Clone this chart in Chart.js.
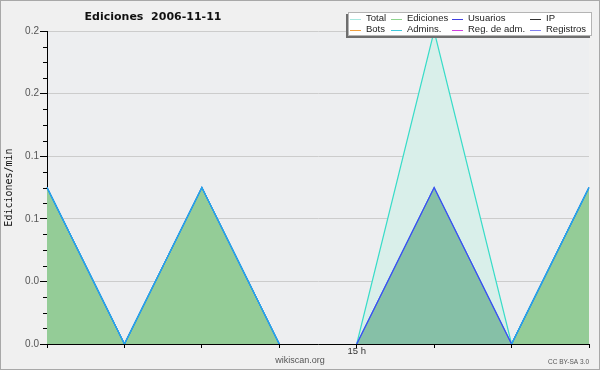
<!DOCTYPE html>
<html>
<head>
<meta charset="utf-8">
<script src="https://cdn.jsdelivr.net/npm/chart.js@4"></script>
<style>
  html, body { margin: 0; padding: 0; background: #f0f0f0; }
  #wrap { width: 600px; height: 370px; position: relative; }
</style>
</head>
<body>
<div id="wrap"><canvas id="editsChart" width="600" height="370"></canvas></div>
<script>
// data (edits per minute, one point per hour)
var hours = ['11 h', '12 h', '13 h', '14 h', '15 h', '16 h', '17 h', '18 h'];
var tickLabels = ['', '', '', '', '15 h', '', '', ''];
var total = [0.1, 0, 0.1, 0, 0, 0.2, 0, 0.1];
var ediciones = [0.1, 0, 0.1, 0, 0, 0.1, 0, 0.1];
var usuarios = [0.1, 0, 0.1, 0, 0, 0.1, 0, 0.1];
var admins = [0.1, 0, 0.1, 0, 0, 0, 0, 0.1];
var ip = [0, 0, 0, 0, 0, 0, 0, 0];
var bots = [0, 0, 0, 0, 0, 0, 0, 0];
var regAdm = [0, 0, 0, 0, 0, 0, 0, 0];
var registros = [0, 0, 0, 0, 0, 0, 0, 0];
var yTicks = [0, 0.04, 0.08, 0.12, 0.16, 0.2];

// hide segments lying on the zero line
var hideZero = {
  borderColor: function (c) {
    return (c.p0.parsed.y === 0 && c.p1.parsed.y === 0) ? 'rgba(0,0,0,0)' : undefined;
  }
};

function series(label, data, color, legendColor, fill, order) {
  return {
    label: label,
    data: data,
    borderColor: color,
    legendColor: legendColor,
    backgroundColor: fill || 'rgba(0,0,0,0)',
    fill: fill ? 'origin' : false,
    borderWidth: 1.2,
    pointRadius: 0,
    tension: 0,
    order: order,
    segment: hideZero
  };
}

var frame = {
  id: 'frame',
  beforeDraw: function (chart) {
    var c = chart.ctx, a = chart.chartArea;
    c.save();
    c.fillStyle = '#f0f0f0';
    c.fillRect(0, 0, chart.width, chart.height);
    c.strokeStyle = '#a8a8a8';
    c.lineWidth = 2;
    c.strokeRect(0, 0, chart.width, chart.height);
    c.fillStyle = '#edeef0';
    c.fillRect(a.left, a.top, a.right - a.left, a.bottom - a.top);
    c.restore();
  },
  afterDraw: function (chart) {
    var c = chart.ctx, a = chart.chartArea, y = chart.scales.y;
    c.save();
    // minor ticks on the y axis
    c.strokeStyle = '#000';
    c.lineWidth = 1;
    for (var i = 0; i < yTicks.length - 1; i++) {
      var step = (yTicks[i + 1] - yTicks[i]) / 4;
      for (var k = 1; k < 4; k++) {
        var py = Math.round(y.getPixelForValue(yTicks[i] + k * step)) + 0.5;
        c.beginPath();
        c.moveTo(a.left - 4, py);
        c.lineTo(a.left, py);
        c.stroke();
      }
    }
    // title
    c.fillStyle = '#111';
    c.font = 'bold 11px "DejaVu Sans"';
    c.textAlign = 'center';
    c.textBaseline = 'middle';
    c.fillText('Ediciones  2006-11-11', 153, 17);
    // footer texts
    c.fillStyle = '#555';
    c.font = '9px "Liberation Sans"';
    c.fillText('wikiscan.org', 300, 361);
    c.textAlign = 'right';
    c.font = '6.5px "Liberation Sans"';
    c.fillText('CC BY-SA 3.0', 589, 362);
    // legend box
    c.fillStyle = '#6e6e6e';
    c.fillRect(346, 14, 244, 24);
    c.fillStyle = '#ffffff';
    c.fillRect(348, 12, 244, 24);
    c.strokeStyle = '#b4b4b4';
    c.strokeRect(348.5, 12.5, 243, 23);
    var colX = [350, 391, 452, 530];
    var rowY = [18.5, 29.5];
    c.font = '9.5px "Liberation Sans"';
    c.textAlign = 'left';
    chart.data.datasets.forEach(function (ds, idx) {
      var cx = colX[idx % 4], cy = rowY[Math.floor(idx / 4)];
      c.strokeStyle = ds.legendColor;
      c.beginPath();
      c.moveTo(cx, Math.round(cy) + 0.5);
      c.lineTo(cx + 11, Math.round(cy) + 0.5);
      c.stroke();
      c.fillStyle = '#222';
      c.fillText(ds.label, cx + 16, cy);
    });
    c.restore();
  }
};

var ctx = document.getElementById('editsChart').getContext('2d');
var editsChart = new Chart(ctx, {
  type: 'line',
  data: {
    labels: hours,
    datasets: [
      series('Total', total, '#38dcc8', '#a8e8e0', '#d9efea', 7),
      series('Ediciones', ediciones, '#3b8ee8', '#8ed48e', '#86c0a7', 6),
      series('Usuarios', usuarios, '#3f4cf0', '#4040e0', null, 5),
      series('IP', ip, '#333333', '#333333', null, 3),
      series('Bots', bots, '#f0a040', '#f0a040', null, 2),
      series('Admins.', admins, '#22b0e6', '#40c8dc', '#94cc97', 4),
      series('Reg. de adm.', regAdm, '#d040e0', '#d040e0', null, 1),
      series('Registros', registros, '#8080f0', '#8080f0', null, 0)
    ]
  },
  options: {
    responsive: false,
    animation: false,
    layout: { padding: { top: 31, right: 11, left: 0, bottom: 0 } },
    plugins: {
      legend: { display: false },
      tooltip: { enabled: false },
      filler: { drawTime: 'beforeDatasetsDraw' }
    },
    scales: {
      x: {
        grid: { drawOnChartArea: false, tickLength: 4, tickColor: '#000' },
        border: { color: '#000', width: 1 },
        ticks: {
          autoSkip: false,
          maxRotation: 0,
          padding: -2,
          color: '#333',
          font: { family: 'Liberation Sans', size: 9.5 },
          callback: function (v, i) { return tickLabels[i]; }
        },
        afterFit: function (scale) { scale.height = 26; }
      },
      y: {
        min: 0,
        max: 0.2,
        afterBuildTicks: function (scale) {
          scale.ticks = yTicks.map(function (v) { return { value: v }; });
        },
        grid: { color: '#cccccc', tickColor: '#000', tickLength: 7 },
        border: { color: '#000', width: 1 },
        ticks: {
          padding: 1,
          color: '#555',
          font: { family: 'Liberation Sans', size: 10 },
          callback: function (v) { return v.toFixed(1); }
        },
        title: {
          display: true,
          text: 'Ediciones/min',
          color: '#111',
          font: { family: 'DejaVu Sans Mono', size: 10 },
          padding: { top: 3, bottom: 0 }
        },
        afterFit: function (scale) { scale.width = 47; }
      }
    }
  },
  plugins: [frame]
});
</script>
</body>
</html>
